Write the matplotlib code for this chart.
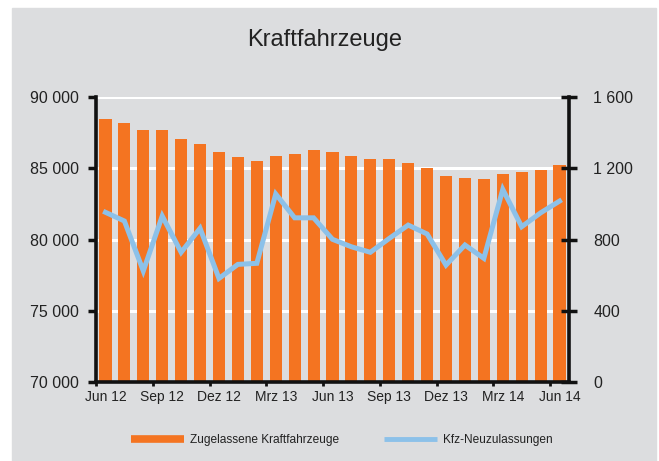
import matplotlib
matplotlib.use("Agg")
import matplotlib.pyplot as plt
from matplotlib.lines import Line2D
from matplotlib.patches import Rectangle

plt.rcParams["font.family"] = ["Liberation Sans", "DejaVu Sans"]

# monthly values Jun 2012 .. Jun 2014
months = [
    "Jun 12", "Jul 12", "Aug 12", "Sep 12", "Okt 12", "Nov 12", "Dez 12",
    "Jan 13", "Feb 13", "Mrz 13", "Apr 13", "Mai 13", "Jun 13", "Jul 13",
    "Aug 13", "Sep 13", "Okt 13", "Nov 13", "Dez 13", "Jan 14", "Feb 14",
    "Mrz 14", "Apr 14", "Mai 14", "Jun 14",
]
zugelassene = [
    88450, 88210, 87700, 87700, 87060, 86690, 86150, 85770, 85510, 85890,
    86030, 86290, 86150, 85890, 85630, 85630, 85370, 85000, 84460, 84340,
    84230, 84600, 84740, 84860, 85230,
]
neuzulassungen = [
    953, 904, 623, 932, 728, 863, 581, 660, 666, 1056,
    922, 922, 801, 759, 728, 806, 881, 831, 656, 769,
    694, 1082, 872, 950, 1016,
]
left_ticks = [70000, 75000, 80000, 85000, 90000]
left_labels = ["70 000", "75 000", "80 000", "85 000", "90 000"]
right_ticks = [0, 400, 800, 1200, 1600]
right_labels = ["0", "400", "800", "1 200", "1 600"]

W, H = 659, 461
bg = "#dcdddf"
orange = "#f47421"
blue = "#8cc1e9"
dark = "#222222"

fig = plt.figure(figsize=(W / 100, H / 100), dpi=100, facecolor="white")
fig.patches.append(Rectangle((12 / W, -0.02), (656 - 12) / W, (H - 8) / H + 0.02,
                             transform=fig.transFigure, color=bg, zorder=-10))

ax = fig.add_axes([96 / W, (H - 381.7) / H, (569 - 96) / W, (381.7 - 97.3) / H])
ax.set_facecolor(bg)
x = list(range(len(months)))
ax.bar(x, zugelassene, width=0.64, color=orange, zorder=2)
ax.set_ylim(70000, 90000)
ax.set_xlim(-0.5, len(months) - 0.5)
ax.set_yticks(left_ticks)
ax.set_yticklabels(left_labels)
ax.yaxis.grid(True, color="white", linewidth=2.2, zorder=1)
ax.set_axisbelow(True)

# labels every third month, ticks at category boundaries
ax.set_xticks(x[::3])
ax.set_xticklabels(months[::3])
ax.set_xticks([i - 0.5 for i in x[::3]], minor=True)
ax.tick_params(axis="x", which="major", length=0, pad=6, labelsize=10, colors=dark)
ax.tick_params(axis="x", which="minor", length=3, width=2, color="#111111")
ax.tick_params(axis="y", length=6, width=2.5, pad=6, labelsize=11.5,
               colors=dark, color="#111111")

for side in ["top", "right"]:
    ax.spines[side].set_visible(False)
for side in ["left", "bottom"]:
    ax.spines[side].set_linewidth(2.6)
    ax.spines[side].set_color("#111111")

ax2 = ax.twinx()
ax2.plot(x, neuzulassungen, color=blue, linewidth=3.6, solid_joinstyle="miter", zorder=3)
ax2.set_ylim(0, 1600)
ax2.set_yticks(right_ticks)
ax2.set_yticklabels(right_labels)
ax2.tick_params(axis="y", direction="inout", length=11, width=2.5, pad=12,
                labelsize=11.5, colors=dark, color="#111111")
for side in ["top", "left", "bottom"]:
    ax2.spines[side].set_visible(False)
ax2.spines["right"].set_linewidth(2.6)
ax2.spines["right"].set_color("#111111")

fig.text(325 / W, (H - 40) / H, "Kraftfahrzeuge", fontsize=17,
         ha="center", va="center", color=dark)

handles = [
    Line2D([], [], color=orange, linewidth=5.5, solid_capstyle="butt"),
    Line2D([], [], color=blue, linewidth=3.5, solid_capstyle="butt"),
]
fig.legend(handles, ["Zugelassene Kraftfahrzeuge", "Kfz-Neuzulassungen"],
           loc="center", bbox_to_anchor=(342 / W, (H - 440) / H), ncol=2,
           frameon=False, fontsize=8.6, handlelength=4.4, handletextpad=0.5,
           columnspacing=3.8, labelcolor=dark)

fig.savefig("out.png", dpi=100, facecolor=fig.get_facecolor())
